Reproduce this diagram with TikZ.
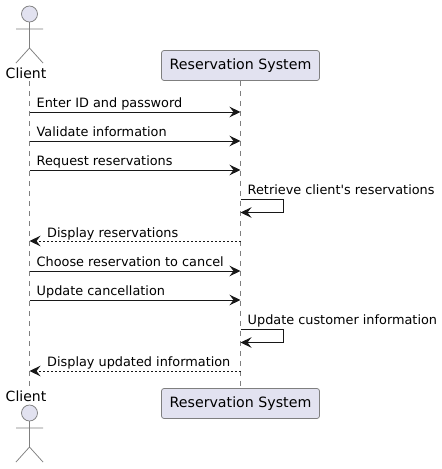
\documentclass[tikz,border=0pt]{standalone}
\usepackage{fontspec}
\setmainfont{DejaVu Sans}
\newfontfamily\plainfont{DejaVu Sans}
\usetikzlibrary{arrows.meta}
\definecolor{partfill}{HTML}{E2E2F0}
\definecolor{partline}{HTML}{7F7F7F}
\definecolor{ink}{HTML}{181818}
\tikzset{
  x=1pt,y=-1pt,
  partbox/.style={draw=partline,fill=partfill,line width=0.75pt,rounded corners=2.5pt,minimum width=158pt,minimum height=30pt,inner sep=0pt,text=black,font=\plainfont\fontsize{14.2}{16}\selectfont},
  actorname/.style={inner sep=0pt,text=black,font=\plainfont\fontsize{14}{16}\selectfont},
  lifeline/.style={draw=partline,line width=0.75pt,dash pattern=on 5pt off 5pt},
  actorline/.style={draw=partline,line width=0.75pt},
  msg/.style={draw=ink,line width=0.9pt,-{Stealth[length=11pt,width=10.5pt,inset=4pt,fill=ink]}},
  ret/.style={msg,dash pattern=on 2pt off 2pt},
  lbl/.style={anchor=base west,inner sep=0pt,text=black,font=\plainfont\fontsize{12.85}{15}\selectfont},
}
\newcommand{\stickman}[2]{%
  \draw[actorline,fill=partfill] (29.5,#1) circle (8);
  \draw[actorline] (29.5,#1+8) -- (29.5,#1+34) (16,#1+15) -- (43,#1+15)
    (16,#1+49) -- (29.5,#1+34) -- (43,#1+49);
}
\begin{document}
\begin{tikzpicture}
\useasboundingbox (0,0) rectangle (442,469);
\fill[white] (0,0) rectangle (442,469);
% participants
\node[partbox] (systop) at (240.5,65.5) {Reservation System};
\node[partbox] (sysbot) at (240.5,403.5) {Reservation System};
\node[actorname,anchor=base] (clitop) at (26,78) {Client};
\node[actorname,anchor=base] (clibot) at (26,401) {Client};
\coordinate (ct) at (29.5,81);
\coordinate (cb) at (29.5,388);
% lifelines
\draw[lifeline] (ct) -- (cb);
\draw[lifeline] (systop.south) -- (sysbot.north);
% actors
\stickman{14}{}
\stickman{413}{}
% lifeline anchors
\foreach \n/\y in {a/112,b/141,c/170,d/241,e/271,f/300,g/371}{
  \coordinate (c\n) at (29.5,\y);
  \coordinate (s\n) at (240.5,\y);
}
\coordinate (r1) at (240.5,199.5);
\coordinate (r2) at (283,199.5);
\coordinate (r3) at (283,212.5);
\coordinate (r4) at (240.5,212.5);
\coordinate (u1) at (240.5,329.5);
\coordinate (u2) at (283,329.5);
\coordinate (u3) at (283,342.5);
\coordinate (u4) at (240.5,342.5);
% messages
\draw[msg] (ca) -- (sa);
\draw[msg] (cb) -- (sb);
\draw[msg] (cc) -- (sc);
\draw[msg] (r1) -- (r2) -- (r3) -- (r4);
\draw[ret] (sd) -- (cd);
\draw[msg] (ce) -- (se);
\draw[msg] (cf) -- (sf);
\draw[msg] (u1) -- (u2) -- (u3) -- (u4);
\draw[ret] (sg) -- (cg);
% labels
\node[lbl] (l1) at (36.5,107) {Enter ID and password};
\node[lbl] (l2) at (36.5,136) {Validate information};
\node[lbl] (l3) at (36.5,165) {Request reservations};
\node[lbl] (l4) at (247.5,194.5) {Retrieve client's reservations};
\node[lbl] (l5) at (47,237) {Display reservations};
\node[lbl] (l6) at (36.5,266) {Choose reservation to cancel};
\node[lbl] (l7) at (36.5,295) {Update cancellation};
\node[lbl] (l8) at (247.5,324.5) {Update customer information};
\node[lbl] (l9) at (47,366) {Display updated information};
\end{tikzpicture}
\end{document}
